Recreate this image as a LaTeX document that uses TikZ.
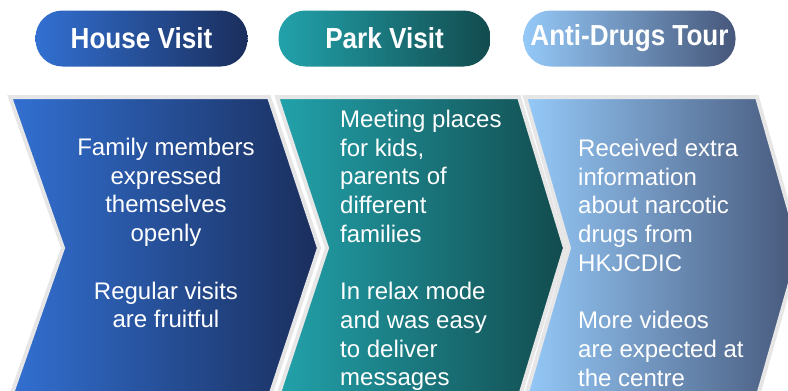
\documentclass[tikz,border=0pt]{standalone}
\usepackage{fontspec}
\setmainfont{Liberation Sans}
\newfontfamily\headfont[FakeStretch=0.9]{Liberation Sans}

\definecolor{houseleft}{HTML}{3270D2}
\definecolor{houseright}{HTML}{1A2E5C}
\definecolor{parkleft}{HTML}{22A2AB}
\definecolor{parkright}{HTML}{124B4E}
\definecolor{tourleft}{HTML}{95C9F8}
\definecolor{tourright}{HTML}{46577A}
\definecolor{edgegray}{HTML}{E6E6E6}

\tikzset{
  header/.style={rounded corners=27pt, minimum width=212pt, minimum height=56pt, inner sep=0pt,
    text=white, font=\headfont\bfseries\fontsize{29}{34}\selectfont},
  chevron/.style={draw=edgegray, line width=4pt, line join=miter},
  body/.style={text=white, inner sep=0pt, font=\fontsize{24}{28.7}\selectfont},
}

\begin{document}
\begin{tikzpicture}[x=1pt, y=-1pt]
\useasboundingbox (0,0) rectangle (788,391);
\clip (0,0) rectangle (788,391);

% Headers
\node[header, left color=houseleft, right color=houseright] (househead) at (141.5,38.5) {House Visit};
\node[header, left color=parkleft, right color=parkright] (parkhead) at (384.5,38.5) {Park Visit};
\node[header, left color=tourleft, right color=tourright] (tourhead) at (629.5,38.5) {Anti-Drugs Tour};

% Chevrons
\path[chevron, left color=houseleft, right color=houseright]
  (10,97) -- (269,97) -- (319,248) -- (269,399) -- (10,399) -- (63,248) -- cycle;
\path[chevron, left color=parkleft, right color=parkright]
  (277,97) -- (519,97) -- (565,248) -- (519,399) -- (277,399) -- (327,248) -- cycle;
\path[chevron, left color=tourleft, right color=tourright]
  (525,97) -- (757,97) -- (800,248) -- (757,399) -- (525,399) -- (569,248) -- cycle;

% Details
\node[body, anchor=north, align=center] (housetext) at (166,138) {Family members\\
expressed\\
themselves\\
openly\\[28.7pt]
Regular visits\\
are fruitful};

\node[body, anchor=north west, align=left] (parktext) at (340,110) {Meeting places\\
for kids,\\
parents of\\
different\\
families\\[28.7pt]
In relax mode\\
and was easy\\
to deliver\\
messages};

\node[body, anchor=north west, align=left] (tourtext) at (578,139) {Received extra\\
information\\
about narcotic\\
drugs from\\
HKJCDIC\\[28.7pt]
More videos\\
are expected at\\
the centre};
\end{tikzpicture}
\end{document}
